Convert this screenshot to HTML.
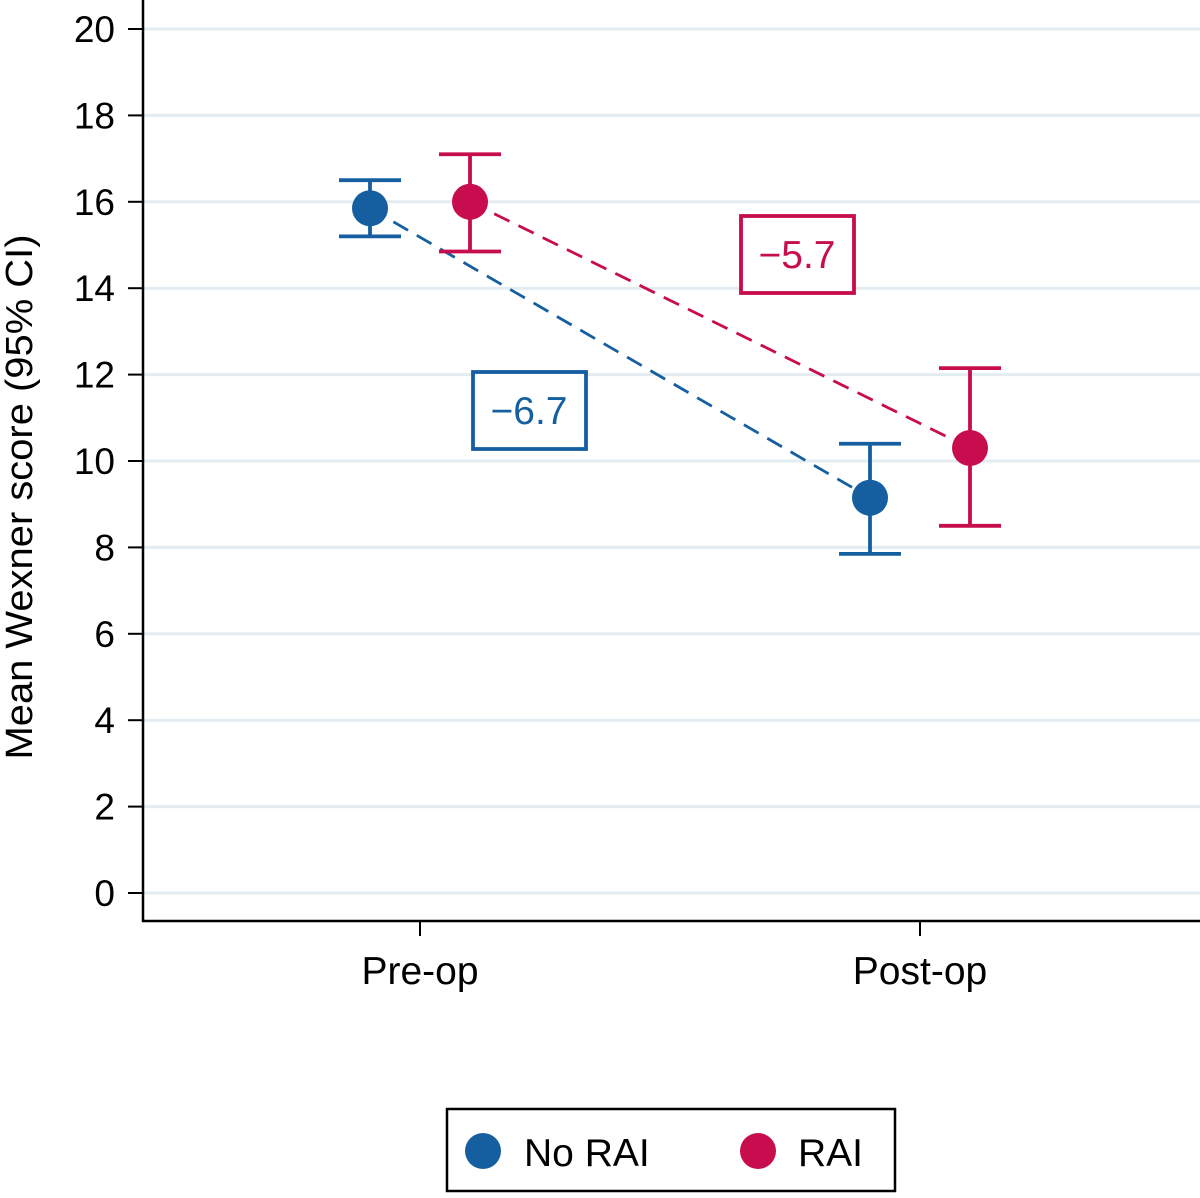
<!DOCTYPE html>
<html><head><meta charset="utf-8"><style>
body{margin:0;background:#fff}
svg text{font-family:"Liberation Sans",sans-serif}
</style></head><body>
<svg id="chart" width="1200" height="1193" viewBox="0 0 1200 1193" xmlns="http://www.w3.org/2000/svg">
<g id="grid"></g><g id="axes"></g><g id="marks"></g>
<rect x="447" y="1109" width="448" height="82" fill="#fff" stroke="#000" stroke-width="2.5"/>
<circle cx="483" cy="1151" r="18" fill="#155fa0"/>
<text x="524" y="1166" font-size="39" fill="#000">No RAI</text>
<circle cx="758" cy="1151" r="18" fill="#c70d4d"/>
<text x="798" y="1166" font-size="39" fill="#000">RAI</text>
<text transform="translate(32,497) rotate(-90)" text-anchor="middle" font-size="38" textLength="525" lengthAdjust="spacingAndGlyphs">Mean Wexner score (95% CI)</text>
</svg>
<script>
const categories=["Pre-op","Post-op"];
const seriesNames=["No RAI","RAI"];
const noRaiMean=[15.85,9.15], noRaiLo=[15.2,7.85], noRaiHi=[16.5,10.4];
const raiMean=[16.0,10.3], raiLo=[14.85,8.5], raiHi=[17.1,12.15];
const changeLabels=["−6.7","−5.7"];
const yTicks=[0,2,4,6,8,10,12,14,16,18,20];
const NS="http://www.w3.org/2000/svg";
const y=v=>893-v*43.2;
const x=i=>420+i*500;
function mk(tag,attrs,parent,text){const e=document.createElementNS(NS,tag);for(const k in attrs)e.setAttribute(k,attrs[k]);if(text!==undefined)e.textContent=text;document.getElementById(parent).appendChild(e);return e;}
yTicks.forEach(t=>{
 let g=mk('line',{x1:143,x2:1200,y1:y(t),y2:y(t),stroke:'#e3ecf0','stroke-width':3},'grid');
 
 
 let tk=mk('line',{x1:128,x2:143,y1:y(t),y2:y(t),stroke:'#000','stroke-width':2},'axes');
 
 
 let l=mk('text',{x:115,y:y(t)+13,'text-anchor':'end','font-size':37},'axes',String(t));
 
 
});
let ya=mk('line',{x1:143,x2:143,y1:0,y2:922,stroke:'#000','stroke-width':2.5},'axes');


let xa=mk('line',{x1:142,x2:1200,y1:921,y2:921,stroke:'#000','stroke-width':2.5},'axes');


categories.forEach((c,i)=>{
 let tk=mk('line',{x1:x(i),x2:x(i),y1:921,y2:936,stroke:'#000','stroke-width':2},'axes');
 
 
 let l=mk('text',{x:x(i),y:984,'text-anchor':'middle','font-size':39},'axes',c);
 
 
});
const series=[{m:noRaiMean,lo:noRaiLo,hi:noRaiHi,c:'#155fa0',off:-50,name:'no-rai'},{m:raiMean,lo:raiLo,hi:raiHi,c:'#c70d4d',off:50,name:'rai'}];
series.forEach(s=>{
 let ln=mk('line',{x1:x(0)+s.off,y1:y(s.m[0]),x2:x(1)+s.off,y2:y(s.m[1]),stroke:s.c,'stroke-width':2.8,'stroke-dasharray':'17,10'},'marks');
 
 
 s.m.forEach((v,i)=>{
  const cx=x(i)+s.off;
  let e=mk('path',{d:`M${cx},${y(s.hi[i])}V${y(s.lo[i])}M${cx-31},${y(s.hi[i])}H${cx+31}M${cx-31},${y(s.lo[i])}H${cx+31}`,stroke:s.c,'stroke-width':3.8,fill:'none'},'marks');
  
  
  let p=mk('circle',{cx:cx,cy:y(v),r:18,fill:s.c},'marks');
  
  
 });
});
[[0,529,410],[1,797,254]].forEach(([k,cx,cy])=>{
 const s=series[k];
 let r=mk('rect',{x:cx-56,y:cy-38,width:113,height:77,fill:'#fff',stroke:s.c,'stroke-width':3.8},'marks');
 
 
 let t=mk('text',{x:cx,y:cy+14,'text-anchor':'middle','font-size':39,fill:s.c},'marks',changeLabels[k]);
 
 
});
</script>
</body></html>
